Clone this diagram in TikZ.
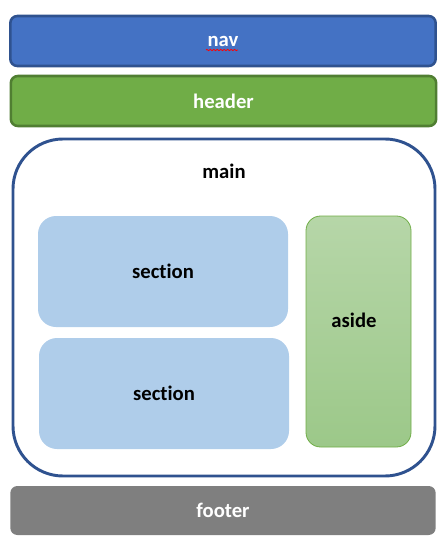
\documentclass[tikz,border=0pt]{standalone}
\usepackage{fontspec}
\setmainfont{Carlito}[Ligatures=NoCommon]
\usetikzlibrary{decorations.pathmorphing}

\definecolor{navfill}{HTML}{4472C4}
\definecolor{navline}{HTML}{2F528F}
\definecolor{headfill}{HTML}{70AD47}
\definecolor{headline}{HTML}{507E32}
\definecolor{secfill}{HTML}{AFCDEA}
\definecolor{asidetop}{HTML}{B6D6A8}
\definecolor{asidebot}{HTML}{9CC889}
\definecolor{footfill}{HTML}{7F7F7F}

\tikzset{
  bar/.style={rectangle, rounded corners=5.25pt, minimum width=319pt, minimum height=37.5pt,
    text=white, font=\fontsize{15.5}{18}\selectfont\bfseries},
  part/.style={rectangle, rounded corners=13.5pt, fill=secfill, minimum width=187.5pt,
    minimum height=83.25pt, font=\fontsize{15.5}{18}\selectfont\bfseries},
  word/.style={font=\fontsize{15.5}{18}\selectfont\bfseries}
}

\begin{document}
\begin{tikzpicture}[x=0.75pt, y=-0.75pt]
			%%%%% START %%%%%
			\useasboundingbox (0, 0) rectangle (447, 550);
			
			\node[bar, fill=navfill, draw=navline, line width=1.9pt] (nav) at (223, 41) {nav};
			\draw[red, line width=0.6pt, decorate, decoration={zigzag, segment length=2.6pt, amplitude=0.5pt}]
			  (206, 50) -- (238, 50);
			
			\node[bar, fill=headfill, draw=headline, line width=1.9pt] (header) at (223.5, 101) {header};
			
			\node[rectangle, rounded corners=37.5pt, draw=navline, line width=2.2pt,
			  minimum width=316.5pt, minimum height=252.75pt] (main) at (224, 307.5) {};
			\node[word] (maintext) at (224, 171) {main};
			
			\node[part] (section1) at (163, 271.5) {section};
			\node[part] (section2) at (164, 393.5) {section};
			
			\node[rectangle, rounded corners=11pt, top color=asidetop, bottom color=asidebot,
			  draw=headfill, line width=0.6pt, minimum width=78.75pt, minimum height=173.25pt] (aside) at (358.5, 331.5) {};
			\node[word] (asidetext) at (354, 320) {aside};
			
			\node[bar, fill=footfill, minimum height=36.75pt] (footer) at (223, 510.5) {footer};
			%%%%% END %%%%%
		\end{tikzpicture}
\end{document}
